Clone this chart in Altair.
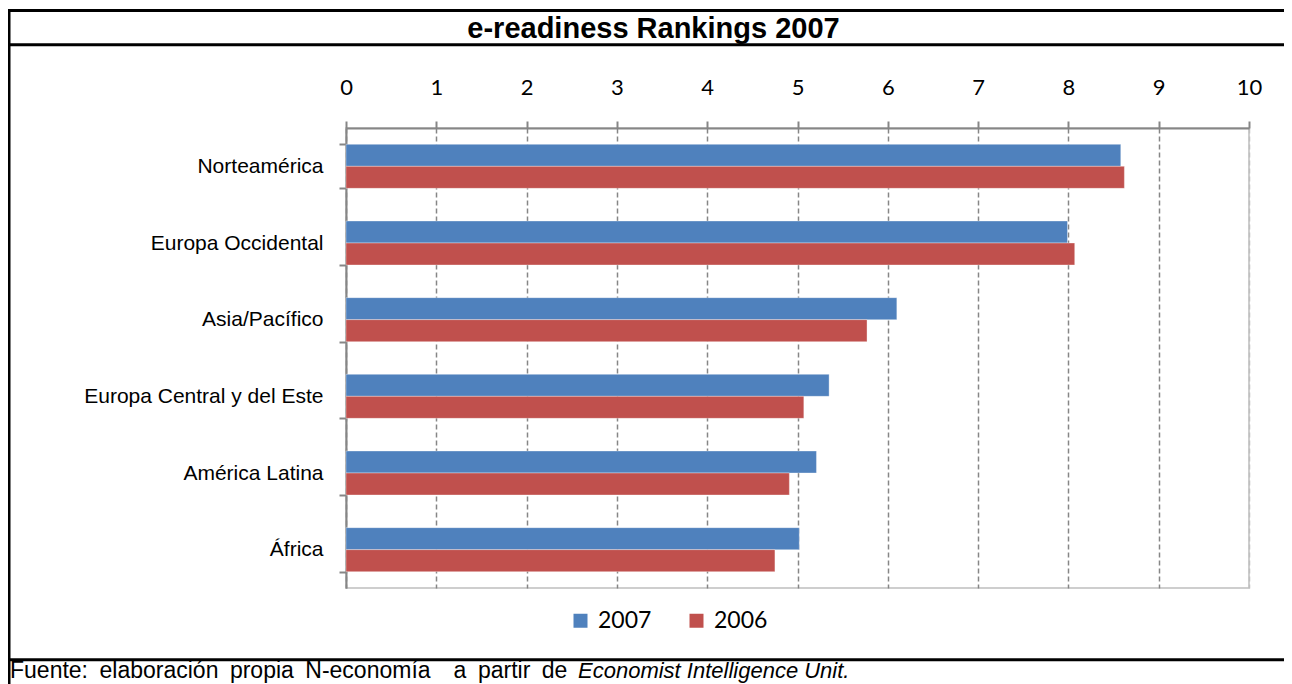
import altair as alt
import pandas as pd

# ---- data ----
regions = ["Norteamérica", "Europa Occidental", "Asia/Pacífico",
           "Europa Central y del Este", "América Latina", "África"]
score_2007 = [8.58, 7.99, 6.10, 5.35, 5.21, 5.02]
score_2006 = [8.62, 8.07, 5.77, 5.07, 4.91, 4.75]
series = ["2007", "2006"]
x_ticks = list(range(0, 11))
title_text = "e-readiness Rankings 2007"
# justified source line: plain words, then the italic part
source_words = ["Fuente:", "elaboración", "propia", "N-economía", "a", "partir", "de"]
source_italic = "Economist Intelligence Unit."

rows = []
for r, a, b in zip(regions, score_2007, score_2006):
    rows.append({"region": r, "serie": series[0], "score": a})
    rows.append({"region": r, "serie": series[1], "score": b})
df = pd.DataFrame(rows)
one = pd.DataFrame({"k": [0]})

W, H = 903, 460
GRID = "#868686"

bars = alt.Chart(df).mark_bar(stroke="white", strokeOpacity=0.35, strokeWidth=1).encode(
    x=alt.X("score:Q",
            scale=alt.Scale(domain=[0, 10], nice=False, zero=True),
            axis=alt.Axis(orient="top", values=x_ticks, title=None, format="d",
                          grid=True, gridDash=[5, 3], gridWidth=1.5,
                          gridColor={"condition": {"test": "datum.value === 10", "value": "#BFBFBF"},
                                     "value": GRID},
                          domainColor=GRID, domainWidth=2,
                          tickColor=GRID, tickSize=7, tickWidth=2,
                          labelFont="Lato", labelFontSize=22, labelColor="black",
                          labelPadding=22, labelFlush=False)),
    y=alt.Y("region:N", sort=regions,
            scale=alt.Scale(paddingInner=0.426, paddingOuter=0.213),
            axis=alt.Axis(title=None, tickBand="extent", ticks=True, tickSize=7,
                          tickColor=GRID, tickWidth=2, domainColor=GRID, domainWidth=2,
                          labelFont="Liberation Sans", labelFontSize=21, labelLimit=0,
                          labelColor="black", labelPadding=16, grid=False)),
    yOffset=alt.YOffset("serie:N", sort=series),
    color=alt.Color("serie:N", sort=series,
                    scale=alt.Scale(domain=series, range=["#4F81BD", "#C0504D"]),
                    legend=alt.Legend(orient="none", legendX=223, legendY=481,
                                      direction="horizontal", title=None,
                                      symbolType="square", symbolSize=196,
                                      symbolStrokeWidth=0, symbolOpacity=1,
                                      labelFont="Lato", labelFontSize=23,
                                      labelColor="black", labelOffset=6,
                                      columnPadding=33, padding=0)),
)

title = alt.Chart(one).mark_text(font="Liberation Sans", fontSize=29, fontWeight="bold",
                                 color="black", align="center", baseline="alphabetic").encode(
    x=alt.value(307.5), y=alt.value(-90), text=alt.value(title_text))

FOOT_Y = 550
word_x = [-336, -246.5, -116.1, -40.7, 107.6, 131.9, 195.8]

foot_layers = []
for w, xv in zip(source_words, word_x):
    foot_layers.append(
        alt.Chart(one).mark_text(font="Liberation Sans", fontSize=23, color="black",
                                 align="left", baseline="alphabetic").encode(
            x=alt.value(xv), y=alt.value(FOOT_Y), text=alt.value(w)))

foot_layers.append(
    alt.Chart(one).mark_text(font="Liberation Sans", fontSize=22, fontStyle="italic",
                             color="black", align="left", baseline="alphabetic").encode(
        x=alt.value(232), y=alt.value(FOOT_Y), text=alt.value(source_italic)))


def hline(yv):
    return alt.Chart(one).mark_rule(color="black", strokeWidth=3).encode(
        x=alt.value(-338), x2=alt.value(960), y=alt.value(yv))


vline = alt.Chart(one).mark_rule(color="black", strokeWidth=3).encode(
    x=alt.value(-337), y=alt.value(-119), y2=alt.value(600))

chart = alt.layer(
    bars, title, *foot_layers,
    hline(-117.5), hline(-83.3), hline(531.7), vline,
).properties(
    width=W, height=H,
    autosize=alt.AutoSizeParams(type="none"),
    padding={"left": 338, "top": 120, "right": 35, "bottom": 96},
    background="white",
).configure_view(stroke="#BFBFBF", strokeWidth=1.5)

chart.save("out.html", embed_options={"renderer": "svg", "actions": False})
